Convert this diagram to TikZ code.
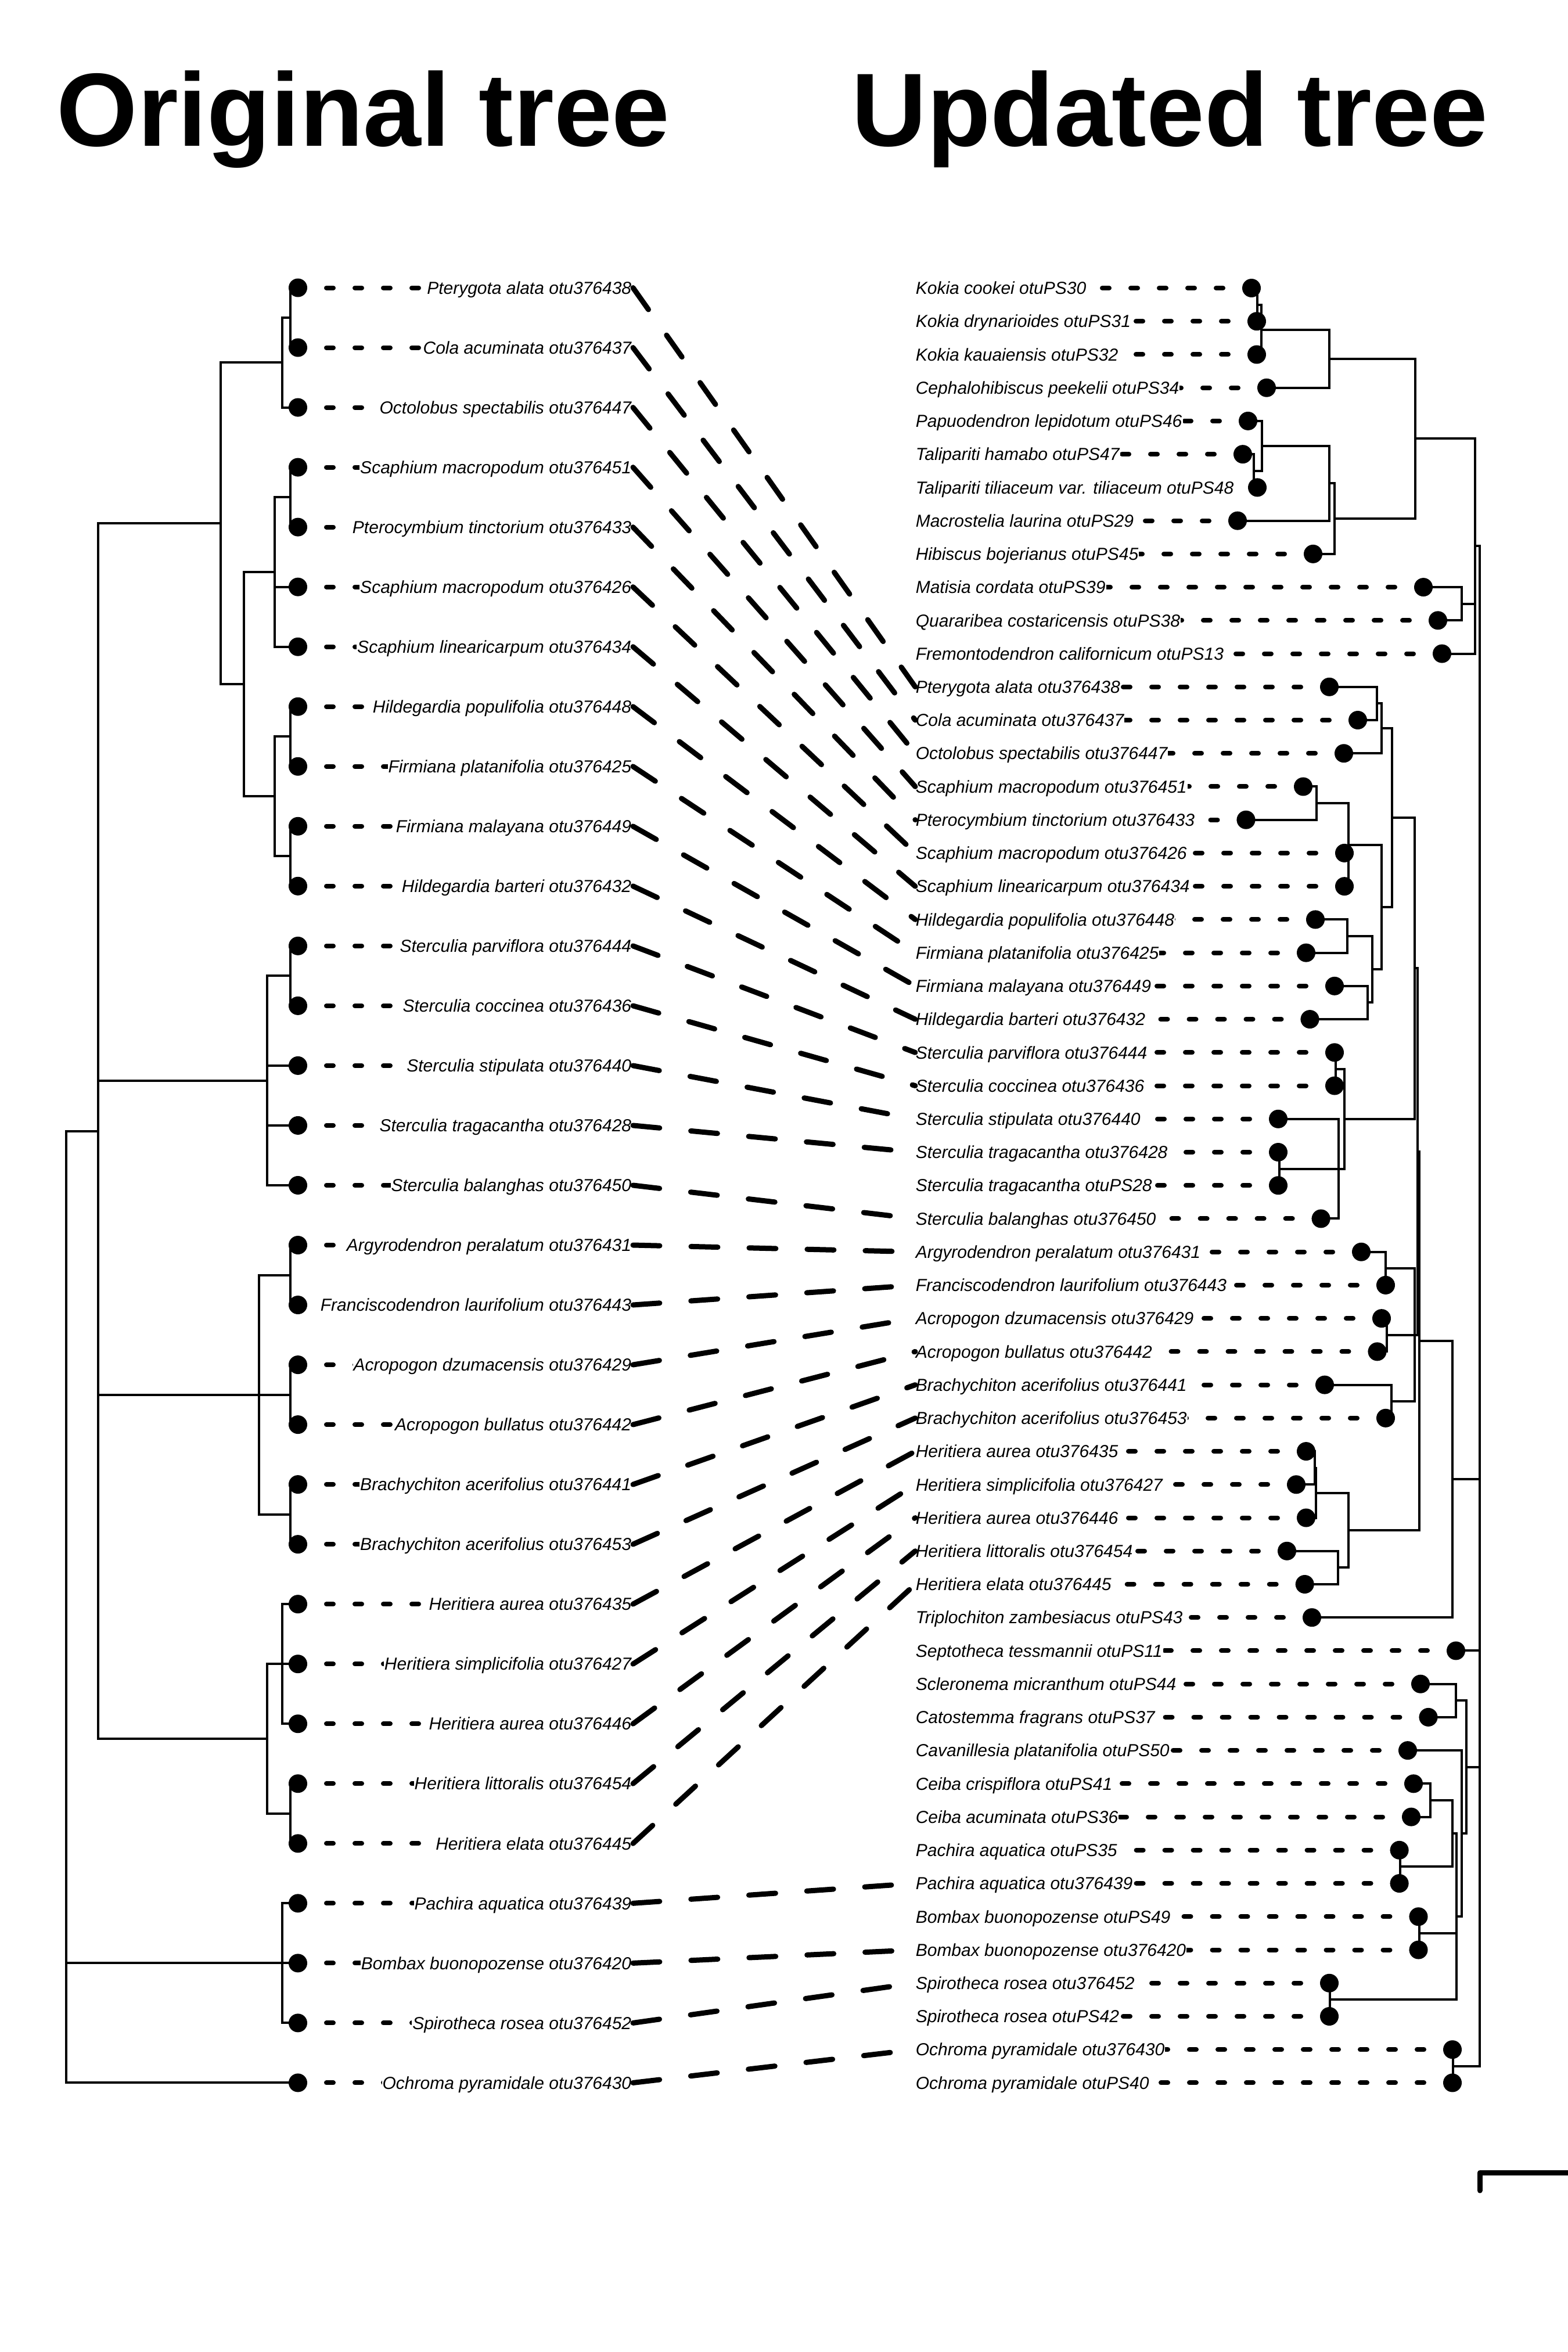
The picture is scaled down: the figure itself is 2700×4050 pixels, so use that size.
\documentclass[tikz,border=0pt]{standalone}
\usepackage{fontspec}
\setmainfont{Liberation Sans}
\usetikzlibrary{calc}
\tikzset{
 dot/.style={circle, fill=black, inner sep=0pt, minimum size=8pt},
 branch/.style={line width=1pt},
 tipline/.style={line width=2pt, dash pattern=on 3pt off 9.25pt, line cap=round},
 crossline/.style={line width=2.25pt, dash pattern=on 11.5pt off 13.5pt, line cap=round},
 lab/.style={fill=white, inner xsep=0.25pt, inner ysep=1.5pt, font=\itshape\fontsize{7.5}{9}\selectfont},
 llab/.style={lab, anchor=base east},
 rlab/.style={lab, anchor=base west},
 titletext/.style={anchor=base west, inner sep=0pt, font=\bfseries\fontsize{44.8}{50}\selectfont},
 scalebar/.style={line width=2.25pt, line cap=round, line join=round},
}
\newcommand\clade[4]{%
  \coordinate (tmpa) at ($(#3.center)!0.5!(#4.center)$);
  \coordinate (tmpx) at (#2,0);
  \coordinate (#1) at (tmpa -| tmpx);
  \draw[branch] (#3.center) -| (#1.center) |- (#4.center);
}
\newcommand\midbr[2]{\draw[branch] (#1.center) -- (#1.center -| #2.center);}
\begin{document}
\begin{tikzpicture}[x=0.25pt, y=-0.25pt]
\useasboundingbox (0,0) rectangle (2700,4050);

% ---------- left leaves ----------
\foreach \i/\nm in {1/{Pterygota alata otu376438}, 2/{Cola acuminata otu376437}, 3/{Octolobus spectabilis otu376447}, 4/{Scaphium macropodum otu376451}, 5/{Pterocymbium tinctorium otu376433}, 6/{Scaphium macropodum otu376426}, 7/{Scaphium linearicarpum otu376434}, 8/{Hildegardia populifolia otu376448}, 9/{Firmiana platanifolia otu376425}, 10/{Firmiana malayana otu376449}, 11/{Hildegardia barteri otu376432}, 12/{Sterculia parviflora otu376444}, 13/{Sterculia coccinea otu376436}, 14/{Sterculia stipulata otu376440}, 15/{Sterculia tragacantha otu376428}, 16/{Sterculia balanghas otu376450}, 17/{Argyrodendron peralatum otu376431}, 18/{Franciscodendron laurifolium otu376443}, 19/{Acropogon dzumacensis otu376429}, 20/{Acropogon bullatus otu376442}, 21/{Brachychiton acerifolius otu376441}, 22/{Brachychiton acerifolius otu376453}, 23/{Heritiera aurea otu376435}, 24/{Heritiera simplicifolia otu376427}, 25/{Heritiera aurea otu376446}, 26/{Heritiera littoralis otu376454}, 27/{Heritiera elata otu376445}, 28/{Pachira aquatica otu376439}, 29/{Bombax buonopozense otu376420}, 30/{Spirotheca rosea otu376452}, 31/{Ochroma pyramidale otu376430}} {
  \coordinate (lc\i) at (1090,{495.5+(\i-1)*103.03});
  \coordinate (le\i) at (1070,{495.5+(\i-1)*103.03});
  \node[dot] (ld\i) at (513,{495.5+(\i-1)*103.03}) {};
  \draw[tipline] (ld\i.center) -- (le\i);
  \node[llab] (ll\i) at (1089,{495.5+(\i-1)*103.03+10.7}) {\nm};
}

% ---------- right leaves ----------
\foreach \j/\x/\nm in {1/2155/{Kokia cookei otuPS30}, 2/2164/{Kokia drynarioides otuPS31}, 3/2164/{Kokia kauaiensis otuPS32}, 4/2181/{Cephalohibiscus peekelii otuPS34}, 5/2149/{Papuodendron lepidotum otuPS46}, 6/2140/{Talipariti hamabo otuPS47}, 7/2165/{Talipariti tiliaceum var. tiliaceum otuPS48}, 8/2131/{Macrostelia laurina otuPS29}, 9/2261/{Hibiscus bojerianus otuPS45}, 10/2451/{Matisia cordata otuPS39}, 11/2476/{Quararibea costaricensis otuPS38}, 12/2483/{Fremontodendron californicum otuPS13}, 13/2289/{Pterygota alata otu376438}, 14/2338/{Cola acuminata otu376437}, 15/2314/{Octolobus spectabilis otu376447}, 16/2244/{Scaphium macropodum otu376451}, 17/2145.5/{Pterocymbium tinctorium otu376433}, 18/2315/{Scaphium macropodum otu376426}, 19/2315/{Scaphium linearicarpum otu376434}, 20/2265/{Hildegardia populifolia otu376448}, 21/2249/{Firmiana platanifolia otu376425}, 22/2298/{Firmiana malayana otu376449}, 23/2255.5/{Hildegardia barteri otu376432}, 24/2298/{Sterculia parviflora otu376444}, 25/2298/{Sterculia coccinea otu376436}, 26/2201/{Sterculia stipulata otu376440}, 27/2201/{Sterculia tragacantha otu376428}, 28/2201/{Sterculia tragacantha otuPS28}, 29/2274.6/{Sterculia balanghas otu376450}, 30/2344/{Argyrodendron peralatum otu376431}, 31/2386/{Franciscodendron laurifolium otu376443}, 32/2379/{Acropogon dzumacensis otu376429}, 33/2371.5/{Acropogon bullatus otu376442}, 34/2281/{Brachychiton acerifolius otu376441}, 35/2386/{Brachychiton acerifolius otu376453}, 36/2249/{Heritiera aurea otu376435}, 37/2232/{Heritiera simplicifolia otu376427}, 38/2249/{Heritiera aurea otu376446}, 39/2216/{Heritiera littoralis otu376454}, 40/2246.7/{Heritiera elata otu376445}, 41/2259/{Triplochiton zambesiacus otuPS43}, 42/2507/{Septotheca tessmannii otuPS11}, 43/2446/{Scleronema micranthum otuPS44}, 44/2459.5/{Catostemma fragrans otuPS37}, 45/2424/{Cavanillesia platanifolia otuPS50}, 46/2434/{Ceiba crispiflora otuPS41}, 47/2430/{Ceiba acuminata otuPS36}, 48/2409.6/{Pachira aquatica otuPS35}, 49/2409.6/{Pachira aquatica otu376439}, 50/2442.5/{Bombax buonopozense otuPS49}, 51/2442.5/{Bombax buonopozense otu376420}, 52/2289/{Spirotheca rosea otu376452}, 53/2289/{Spirotheca rosea otuPS42}, 54/2501/{Ochroma pyramidale otu376430}, 55/2501/{Ochroma pyramidale otuPS40}} {
  \coordinate (rc\j) at (1576,{496+(\j-1)*57.23});
  \coordinate (re\j) at (1600,{496+(\j-1)*57.23});
  \node[dot] (rd\j) at (\x,{496+(\j-1)*57.23}) {};
  \draw[tipline] (rd\j.center) -- (re\j);
  \node[rlab] (rl\j) at (1575,{496+(\j-1)*57.23+10.7}) {\nm};
}

% ---------- left tree ----------
\clade{N1}{500}{ld1}{ld2}
\clade{N2}{485.5}{N1}{ld3}
\clade{N3}{500}{ld4}{ld5}
\clade{N4}{473}{N3}{ld7} \midbr{ld6}{N4}
\clade{N6}{500}{ld8}{ld9}
\clade{N7}{500}{ld10}{ld11}
\clade{N8}{473}{N6}{N7}
\clade{N5}{419.5}{N4}{N8}
\clade{N9}{380}{N2}{N5}
\clade{N11}{500}{ld12}{ld13}
\clade{N12}{459.8}{N11}{ld16} \midbr{ld14}{N12} \midbr{ld15}{N12}
\clade{N14}{500}{ld17}{ld18}
\clade{N15}{500}{ld19}{ld20}
\clade{N16}{500}{ld21}{ld22}
\clade{N17}{446}{N14}{N16} \midbr{N15}{N17}
\clade{N18}{486}{ld23}{ld25} \midbr{ld24}{N18}
\clade{N19}{500}{ld26}{ld27}
\clade{N20}{459.8}{N18}{N19}
\clade{N10}{168.7}{N9}{N20} \midbr{N12}{N10} \midbr{N17}{N10}
\clade{N21}{486}{ld28}{ld30} \midbr{ld29}{N21}
\clade{N22}{113.7}{N10}{ld31} \midbr{N21}{N22}

% ---------- right tree ----------
\clade{K1}{2164.5}{rd1}{rd2}
\clade{K2}{2172}{K1}{rd3}
\clade{K3}{2289}{K2}{rd4}
\clade{P1}{2158.7}{rd6}{rd7}
\clade{P2}{2173.4}{rd5}{P1}
\clade{P3}{2289}{P2}{rd8}
\clade{P4}{2298}{P3}{rd9}
\clade{M1}{2437.4}{K3}{P4}
\clade{MQ}{2516.6}{rd10}{rd11}
\clade{T1}{2540}{M1}{rd12} \midbr{MQ}{T1}
\clade{S1}{2371.4}{rd13}{rd14}
\clade{S2}{2378.8}{S1}{rd15}
\clade{S3}{2267.3}{rd16}{rd17}
\clade{S4}{2322.3}{S3}{rd19} \midbr{rd18}{S4}
\clade{S5}{2320}{rd20}{rd21}
\clade{S6}{2354.5}{rd22}{rd23}
\clade{S7}{2362.6}{S5}{S6}
\clade{S8}{2378.8}{S4}{S7}
\clade{S9}{2397}{S2}{S8}
\clade{St1}{2300}{rd24}{rd25}
\clade{St2}{2203}{rd27}{rd28}
\clade{St3}{2305.4}{rd26}{rd29} \midbr{St2}{St3}
\clade{St4}{2315}{St1}{St3}
\clade{S10}{2436}{S9}{St4}
\clade{A1}{2386}{rd30}{rd31}
\clade{A2}{2388.3}{rd32}{rd33}
\clade{A3}{2395.6}{rd34}{rd35}
\clade{A4}{2436}{A1}{A3} \midbr{A2}{A4}
\clade{SA}{2441}{S10}{A4}
\clade{H1}{2264}{rd36}{rd37}
\clade{H2}{2266}{H1}{rd38}
\clade{H3}{2304}{rd39}{rd40}
\clade{H4}{2322.3}{H2}{H3}
\clade{SH}{2443.5}{SA}{H4}
\clade{Tr}{2501.2}{SH}{rd41}
\clade{B1}{2507}{rd43}{rd44}
\clade{C1}{2463}{rd46}{rd47}
\clade{Pa}{2411}{rd48}{rd49}
\clade{CP}{2501.2}{C1}{Pa}
\clade{Bo}{2444}{rd50}{rd51}
\clade{Sp}{2290}{rd52}{rd53}
\clade{B2}{2508}{CP}{Sp} \midbr{Bo}{B2}
\clade{B3}{2516.6}{rd45}{B2}
\clade{B4}{2525.4}{B1}{B3}
\clade{Oc}{2502}{rd54}{rd55}
\clade{RT}{2547.5}{T1}{Oc} \midbr{Tr}{RT} \midbr{rd42}{RT} \midbr{B4}{RT}

% ---------- connectors between trees ----------
\foreach \a/\b in {1/13, 2/14, 3/15, 4/16, 5/17, 6/18, 7/19, 8/20, 9/21, 10/22, 11/23, 12/24, 13/25, 14/26, 15/27, 16/29, 17/30, 18/31, 19/32, 20/33, 21/34, 22/35, 23/36, 24/37, 25/38, 26/39, 27/40, 28/49, 29/51, 30/52, 31/54} {
  \draw[crossline] (lc\a) -- (rc\b);
}

% ---------- titles ----------
\node[titletext] (t1) at (97,251) {Original tree};
\node[titletext] (t2) at (1466,251) {Updated tree};

% ---------- scale bar ----------
\coordinate (sb1) at (2548,3772);
\coordinate (sb2) at (2548,3741);
\coordinate (sb3) at (2715,3741);
\draw[scalebar] (sb1) -- (sb2) -- (sb3);
\end{tikzpicture}
\end{document}
